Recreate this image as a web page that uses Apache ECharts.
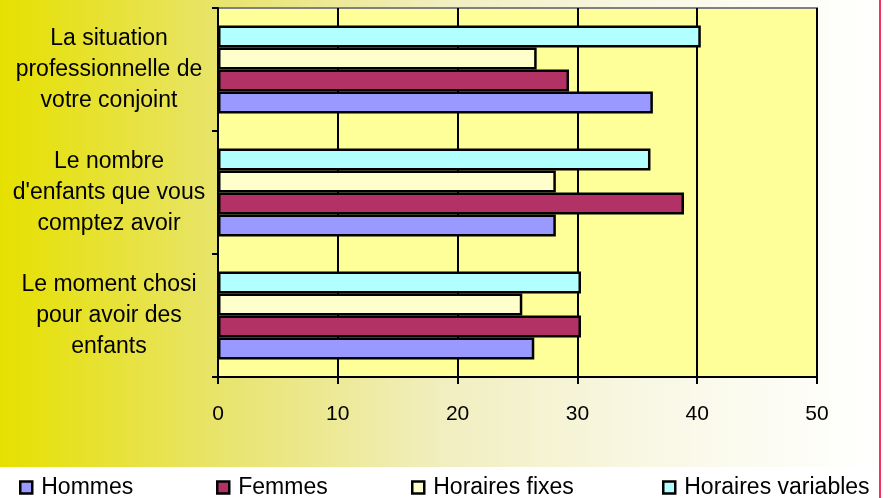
<!DOCTYPE html>
<html>
<head>
<meta charset="utf-8">
<script src="https://cdn.jsdelivr.net/npm/echarts@6/dist/echarts.min.js"></script>
<style>
html,body{margin:0;padding:0;background:#fff;}
#chart{width:890px;height:498px;}
</style>
</head>
<body>
<div id="chart"></div>
<script>
// Categories listed bottom to top
var categories = [
  "Le moment chosi\npour avoir des\nenfants",
  "Le nombre\nd'enfants que vous\ncomptez avoir",
  "La situation\nprofessionnelle de\nvotre conjoint"
];
var hommes = [26.4, 28.2, 36.3];
var femmes = [30.3, 38.9, 29.3];
var horairesFixes = [25.4, 28.2, 26.6];
var horairesVariables = [30.3, 36.1, 40.3];
var seriesNames = ["Hommes", "Femmes", "Horaires fixes", "Horaires variables"];
var xTicks = [0, 10, 20, 30, 40, 50];

var FONT = "'Liberation Sans', Arial, sans-serif";
var colors = {
  "Hommes": "#9999FF",
  "Femmes": "#B23265",
  "Horaires fixes": "#FFFFCC",
  "Horaires variables": "#B2FFFF"
};
var values = {
  "Hommes": hommes,
  "Femmes": femmes,
  "Horaires fixes": horairesFixes,
  "Horaires variables": horairesVariables
};

// series drawn top-first in ECharts horizontal layout: reverse so Hommes ends at bottom
var order = seriesNames.slice().reverse();
var series = order.map(function (n) {
  return {
    name: n,
    type: "bar",
    data: values[n],
    barGap: "0%",
    barCategoryGap: "28.5%",
    itemStyle: { color: colors[n], borderColor: "#000", borderWidth: 2.5 }
  };
});

var legendLefts = [19, 216, 411, 662];
var legends = seriesNames.map(function (n, i) {
  return {
    data: [n],
    left: legendLefts[i],
    top: 476,
    padding: 0,
    icon: "rect",
    itemWidth: 12,
    itemHeight: 12,
    itemStyle: { color: colors[n], borderColor: "#000", borderWidth: 2.5 },
    selectedMode: false,
    textStyle: { fontFamily: FONT, fontSize: 23, color: "#000", padding: [0, 0, 0, 4] }
  };
});

var chart = echarts.init(document.getElementById("chart"), null, { renderer: "canvas" });
chart.setOption({
  animation: false,
  backgroundColor: "#ffffff",
  graphic: [
    {
      type: "rect", z: -100, silent: true,
      shape: { x: 0, y: 0, width: 880, height: 467 },
      style: {
        fill: new echarts.graphic.LinearGradient(0, 0, 1, 0, [
          { offset: 0, color: "#E6E000" },
          { offset: 0.25, color: "#E8E46C" },
          { offset: 0.5, color: "#F1EEBF" },
          { offset: 0.75, color: "#F9F8E6" },
          { offset: 1, color: "#FFFFFF" }
        ])
      }
    },
    {
      type: "rect", z: 100, silent: true,
      shape: { x: 879, y: 0, width: 2, height: 498 },
      style: { fill: "#EE3363" }
    }
  ],
  legend: legends,
  grid: {
    left: 218, right: 73, top: 8, bottom: 121,
    show: true,
    backgroundColor: "#FFFF99",
    borderColor: "#808080",
    borderWidth: 2
  },
  xAxis: {
    type: "value",
    min: xTicks[0],
    max: xTicks[xTicks.length - 1],
    interval: 10,
    axisLine: { show: true, lineStyle: { color: "#000", width: 2 } },
    axisTick: { show: true, inside: false, length: 7, lineStyle: { color: "#000", width: 2 } },
    splitLine: { show: true, lineStyle: { color: "#000", width: 2 } },
    axisLabel: { fontFamily: FONT, fontSize: 21, color: "#000", margin: 27 }
  },
  yAxis: {
    type: "category",
    data: categories,
    axisLine: { show: true, lineStyle: { color: "#000", width: 2 } },
    axisTick: { show: true, inside: false, length: 6, lineStyle: { color: "#000", width: 2 } },
    axisLabel: {
      fontFamily: FONT, fontSize: 23, color: "#000",
      align: "center", margin: 109, lineHeight: 31
    }
  },
  series: series
});
</script>
</body>
</html>
